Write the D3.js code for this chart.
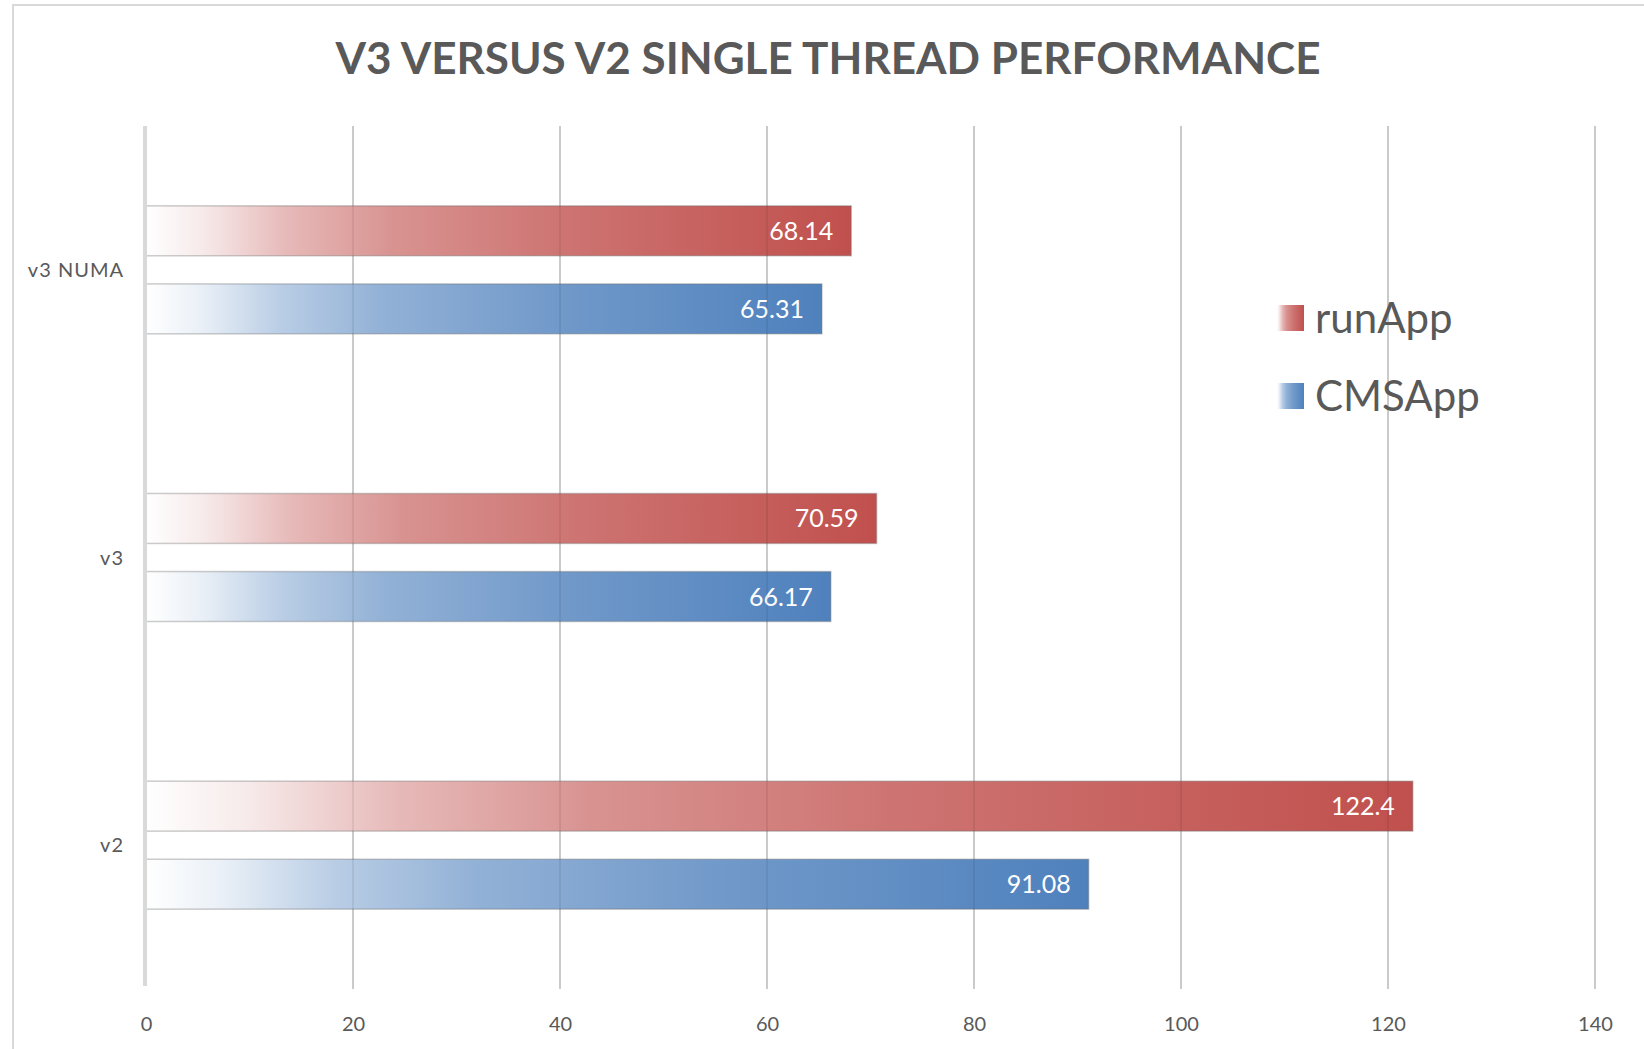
<!DOCTYPE html>
<html>
<head>
<meta charset="utf-8">
<script src="https://cdn.jsdelivr.net/npm/d3@7"></script>
<style>
  body { margin: 0; background: #fff; }
  svg { display: block; font-family: Lato, "Open Sans", sans-serif; }
</style>
</head>
<body>
<div id="chart"></div>
<script>
var categories = ["v3 NUMA", "v3", "v2"];
var series = ["runApp", "CMSApp"];
var runApp = [68.14, 70.59, 122.4];
var cmsApp = [65.31, 66.17, 91.08];
var ticks = [0, 20, 40, 60, 80, 100, 120, 140];

var width = 1644, height = 1049;
var colors = { runApp: "#c0504d", CMSApp: "#4f81bd" };

var svg = d3.select("#chart").append("svg")
  .attr("width", width)
  .attr("height", height);

// gradients, white at left to full colour at right
var defs = svg.append("defs");
function grad(id, c) {
  var g = defs.append("linearGradient").attr("id", id)
    .attr("x1", "0").attr("x2", "1").attr("y1", "0").attr("y2", "0");
  var col = d3.color(c);
  var stops = [[0, 0.0], [0.08, 0.12], [0.2, 0.4], [0.35, 0.62], [0.6, 0.8], [1, 1]];
  stops.forEach(function(s) {
    g.append("stop").attr("offset", s[0])
      .attr("stop-color", d3.interpolateRgb("#ffffff", col)(s[1]));
  });
}
grad("g_runApp", colors.runApp);
grad("g_CMSApp", colors.CMSApp);

// outer frame
svg.append("rect")
  .attr("x", 13).attr("y", 5)
  .attr("width", 1700).attr("height", 1200)
  .attr("fill", "none").attr("stroke", "#d9d9d9").attr("stroke-width", 2);

svg.append("text")
  .attr("x", 828).attr("y", 74)
  .attr("text-anchor", "middle")
  .attr("font-size", 44).attr("font-weight", "bold")
  .attr("fill", "#595959")
  .attr("textLength", 985).attr("lengthAdjust", "spacing")
  .text("V3 VERSUS V2 SINGLE THREAD PERFORMANCE");

var x = d3.scaleLinear().domain([0, 140]).range([146, 1595]);
var y0 = d3.scaleBand().domain(categories).range([126, 989])
  .paddingInner(0.555).paddingOuter(0.2775);
var y1 = d3.scaleBand().domain(series).range([0, y0.bandwidth()])
  .paddingInner(0.36);

// gridlines
svg.append("g").selectAll("line")
  .data(ticks.slice(1))
  .enter().append("line")
  .attr("x1", function(d){ return x(d); })
  .attr("x2", function(d){ return x(d); })
  .attr("y1", 126).attr("y2", 989)
  .attr("stroke", "#cccccc").attr("stroke-width", 1.5);

// axis labels
var xAxis = d3.axisBottom(x).tickValues(ticks).tickSize(0).tickPadding(0);
var ga = svg.append("g").attr("transform", "translate(0,1031)").call(xAxis);
ga.select(".domain").remove();
ga.selectAll("text")
  .attr("dy", 0)
  .attr("font-family", "Lato, sans-serif")
  .attr("font-size", 20).attr("fill", "#595959");

var rows = categories.map(function(c, i){
  return [{cat: c, s: "runApp", v: runApp[i]}, {cat: c, s: "CMSApp", v: cmsApp[i]}];
});
var flat = [].concat.apply([], rows);

var bars = svg.append("g").selectAll("g")
  .data(flat)
  .enter().append("g")
  .attr("transform", function(d){ return "translate(0," + (y0(d.cat) + y1(d.s)) + ")"; });

bars.append("rect")
  .attr("x", x(0))
  .attr("width", function(d){ return x(d.v) - x(0); })
  .attr("height", y1.bandwidth())
  .attr("fill", function(d){ return "url(#g_" + d.s + ")"; })
  .attr("stroke", "rgba(110,110,110,0.35)")
  .attr("stroke-width", 1.5);

// gridlines faintly through the bars
svg.append("g").selectAll("line")
  .data(ticks.slice(1))
  .enter().append("line")
  .attr("x1", function(d){ return x(d); })
  .attr("x2", function(d){ return x(d); })
  .attr("y1", 126).attr("y2", 989)
  .attr("stroke", "rgba(0,0,0,0.09)").attr("stroke-width", 1.5);

bars.append("text")
  .attr("x", function(d){ return x(d.v) - 18; })
  .attr("y", y1.bandwidth() / 2)
  .attr("dy", "0.36em")
  .attr("text-anchor", "end")
  .attr("font-size", 25)
  .attr("fill", "#ffffff")
  .text(function(d){ return d.v; });

// left axis line
svg.append("line")
  .attr("x1", x(0) - 1).attr("x2", x(0) - 1)
  .attr("y1", 126).attr("y2", 986)
  .attr("stroke", "#d9d9d9").attr("stroke-width", 4);

svg.append("g").selectAll("text")
  .data(categories)
  .enter().append("text")
  .attr("x", 124)
  .attr("y", function(d){ return y0(d) + y0.bandwidth() / 2; })
  .attr("dy", "0.36em")
  .attr("text-anchor", "end")
  .attr("font-size", 20)
  .attr("fill", "#595959")
  .attr("letter-spacing", 1)
  .text(function(d){ return d; });

// legend
var leg = svg.append("g").selectAll("g")
  .data(series)
  .enter().append("g")
  .attr("transform", function(d, i){ return "translate(1277," + (305 + i * 78) + ")"; });
leg.append("rect")
  .attr("width", 27).attr("height", 26)
  .attr("fill", function(d){ return "url(#g_" + d + ")"; });
leg.append("text")
  .attr("x", 38).attr("y", 13)
  .attr("dy", "0.36em")
  .attr("font-size", 42)
  .attr("fill", "#595959")
  .text(function(d){ return d; });
</script>
</body>
</html>
